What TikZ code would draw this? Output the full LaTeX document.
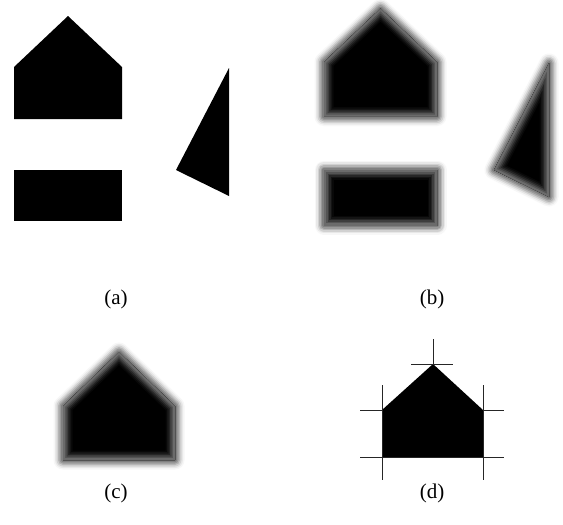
\documentclass[tikz,border=0pt]{standalone}
\usepackage{fontspec}
\setmainfont{Liberation Serif}
\begin{document}
\begin{tikzpicture}[x=1pt,y=-1pt,
  lbl/.style={inner sep=0pt,font=\fontsize{21}{23}\selectfont},
  guide/.style={line width=0.9pt,black!85}]
\useasboundingbox (0,0) rectangle (563,525);
\fill[white] (0,0) rectangle (563,525);
% blur macro
\newcommand{\blurshape}[1]{%
  \draw[black!3,line width=19pt,line join=round] #1;
  \draw[black!9,line width=16pt,line join=round] #1;
  \draw[black!18,line width=13pt,line join=round] #1;
  \draw[black!29,line width=10pt,line join=round] #1;
  \draw[black!40,line width=7pt,line join=round] #1;
  \draw[black!50,line width=4pt,line join=round] #1;
  \fill[black] #1;
  \begin{scope}
    \clip #1;
    \draw[black!97,line width=19pt] #1;
    \draw[black!92,line width=16pt] #1;
    \draw[black!85,line width=13pt] #1;
    \draw[black!76,line width=10pt] #1;
    \draw[black!67,line width=7pt] #1;
    \draw[black!58,line width=4pt] #1;
  \end{scope}}
% (a)
\fill[black] (14,67) -- (68,16) -- (122,67) -- (122,119) -- (14,119) -- cycle;
\fill[black] (14,170) rectangle (122,221);
\fill[black] (229,68) -- (176,170) -- (229,196) -- cycle;
\node[lbl] (la) at (116,299) {(a)};
% (b)
\blurshape{(324,62) -- (380.5,8.5) -- (437,62) -- (437,116.5) -- (324,116.5) -- cycle}
\blurshape{(324,170) -- (437,170) -- (437,225) -- (324,225) -- cycle}
\blurshape{(549,63) -- (494,170) -- (549,197) -- cycle}
\node[lbl] (lb) at (432,299) {(b)};
% (c)
\blurshape{(63,406) -- (119,352) -- (175,406) -- (175,460) -- (63,460) -- cycle}
\node[lbl] (lc) at (116,493) {(c)};
% (d)
\fill[black] (382,410) -- (433,364) -- (483,410) -- (483,457) -- (382,457) -- cycle;
\coordinate (dL1) at (382,385); \coordinate (dL2) at (382,480);
\coordinate (dR1) at (483,385); \coordinate (dR2) at (483,480);
\coordinate (dB1) at (360,457); \coordinate (dB2) at (504,457);
\coordinate (dS1) at (360,410); \coordinate (dS2) at (382,410);
\coordinate (dS3) at (483,410); \coordinate (dS4) at (504,410);
\coordinate (dA1) at (411,364); \coordinate (dA2) at (453,364);
\coordinate (dT1) at (433,339); \coordinate (dT2) at (433,364);
\draw[guide] (dL1) -- (dL2);
\draw[guide] (dR1) -- (dR2);
\draw[guide] (dB1) -- (dB2);
\draw[guide] (dS1) -- (dS2);
\draw[guide] (dS3) -- (dS4);
\draw[guide] (dA1) -- (dA2);
\draw[guide] (dT1) -- (dT2);
\node[lbl] (ld) at (432,493) {(d)};
\end{tikzpicture}
\end{document}
